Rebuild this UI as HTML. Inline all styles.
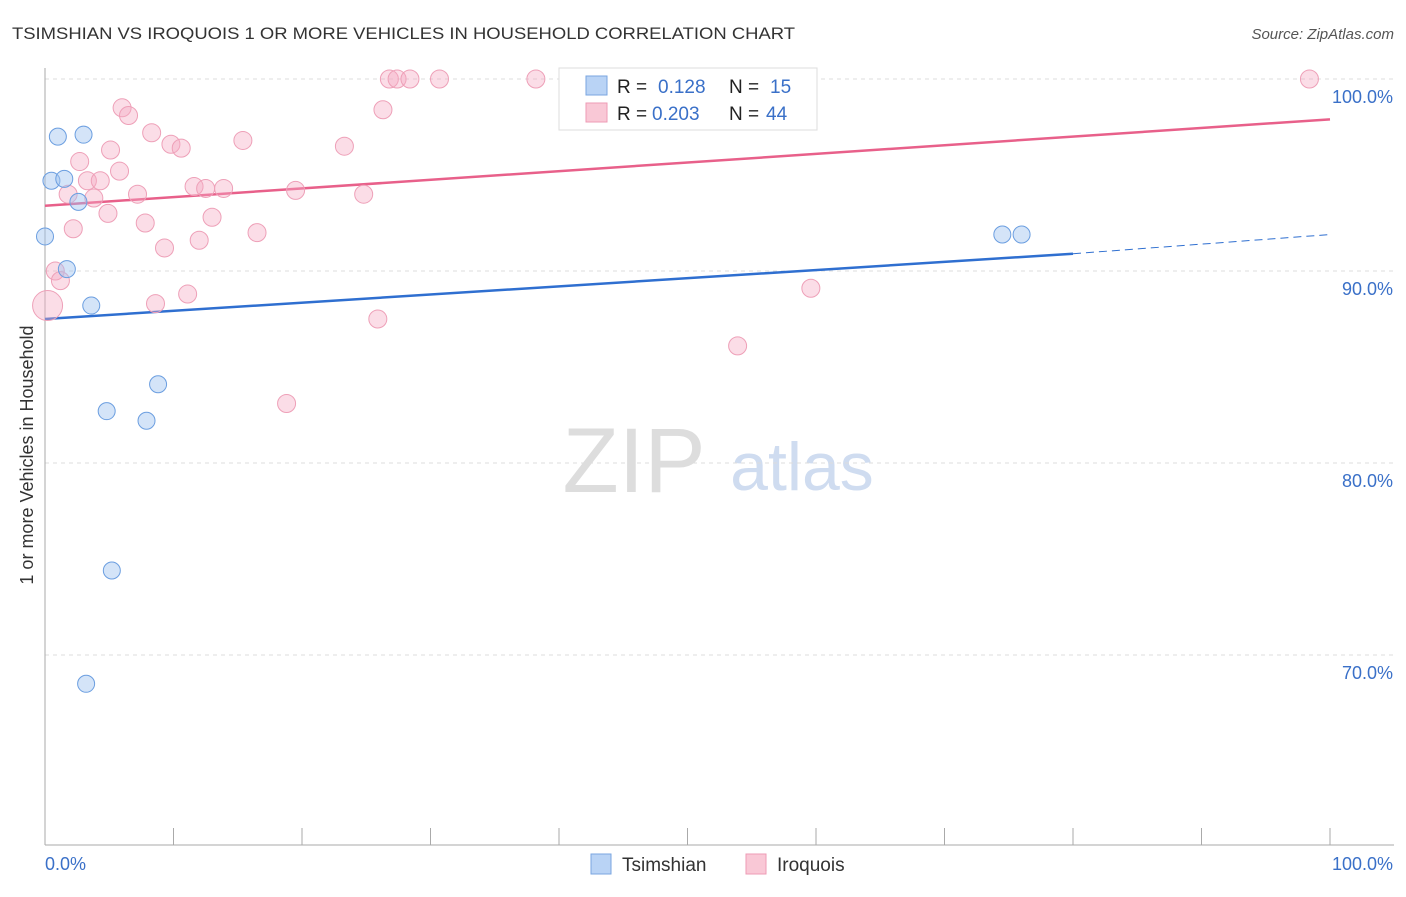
<!DOCTYPE html>
<html><head><meta charset="utf-8"><style>
body{margin:0;background:#fff;font-family:"Liberation Sans",sans-serif;}
svg text{font-family:"Liberation Sans",sans-serif;}
</style></head><body>
<svg id="chart" width="1406" height="892" xmlns="http://www.w3.org/2000/svg">
<text x="12" y="39" font-size="17" fill="#333" textLength="783" lengthAdjust="spacingAndGlyphs">TSIMSHIAN VS IROQUOIS 1 OR MORE VEHICLES IN HOUSEHOLD CORRELATION CHART</text>
<text x="1394" y="39" font-size="15" fill="#555" font-style="italic" text-anchor="end">Source: ZipAtlas.com</text>
<text x="33" y="455" font-size="18" fill="#333" text-anchor="middle" transform="rotate(-90 33 455)">1 or more Vehicles in Household</text>
<g><text x="634" y="492" font-size="92" fill="#ddd" font-family="Liberation Serif" text-anchor="middle">ZIP</text><text x="802" y="490" font-size="68" fill="#cfdcf0" text-anchor="middle">atlas</text></g>
<g id="grid"></g><g id="axes"></g><g id="lines"></g><g id="pts"></g>
<g>
<rect x="559" y="68" width="258" height="62" fill="#fff" stroke="#ddd"/>
<rect x="586" y="76" width="21" height="19" fill="#b9d3f5" stroke="#7aa6e0"/>
<rect x="586" y="103" width="21" height="19" fill="#f9c8d6" stroke="#ee9bb5"/>
<text x="617" y="93" font-size="19" fill="#222">R = </text><text x="658" y="93" font-size="19" fill="#3a70c8">0.128</text>
<text x="729" y="93" font-size="19" fill="#222">N = </text><text x="770" y="93" font-size="19" fill="#3a70c8">15</text>
<text x="617" y="120" font-size="19" fill="#222">R = </text><text x="652" y="120" font-size="19" fill="#3a70c8">0.203</text>
<text x="729" y="120" font-size="19" fill="#222">N = </text><text x="766" y="120" font-size="19" fill="#3a70c8">44</text>
</g>
<g>
<rect x="591" y="854" width="20" height="20" fill="#b9d3f5" stroke="#7aa6e0"/><text x="622" y="871" font-size="19" fill="#333">Tsimshian</text>
<rect x="746" y="854" width="20" height="20" fill="#f9c8d6" stroke="#ee9bb5"/><text x="777" y="871" font-size="19" fill="#333">Iroquois</text>
</g>
</svg>
<script>
const yTicks=[100,90,80,70];
const tsX=[0,1,3,0.5,1.5,2.6,1.7,3.6,8.8,4.8,7.9,5.2,3.2,74.5,76];
const tsY=[91.8,97,97.1,94.7,94.8,93.6,90.1,88.2,84.1,82.7,82.2,74.4,68.5,91.9,91.9];
const irX=[6,6.5,8.3,5.1,2.7,5.8,7.2,9.8,10.6,15.4,23.3,26.3,26.8,27.4,28.4,30.7,38.2,98.4,11.6,12.5,13.9,19.5,24.8,3.3,4.3,1.8,3.8,4.9,7.8,13,2.2,16.5,12,9.3,0.8,1.2,0.2,8.6,11.1,25.9,18.8,53.9,59.6];
const irY=[98.5,98.1,97.2,96.3,95.7,95.2,94,96.6,96.4,96.8,96.5,98.4,100,100,100,100,100,100,94.4,94.3,94.3,94.2,94,94.7,94.7,94,93.8,93,92.5,92.8,92.2,92,91.6,91.2,90,89.5,88.2,88.3,88.8,87.5,83.1,86.1,89.1];
const irS=irX.map((_,i)=>i===36?15:9);
const trendTs=[[0,87.5],[80,90.9],[100,91.9]];
const trendIr=[[0,93.4],[100,97.9]];
const X=v=>45+v*12.85, Y=v=>79+(100-v)*19.2;
const NS="http://www.w3.org/2000/svg";
function mk(p,t,a){const e=document.createElementNS(NS,t);for(const k in a)e.setAttribute(k,a[k]);document.getElementById(p).appendChild(e);return e;}
yTicks.forEach(v=>{
 const l=mk('grid','line',{x1:45,x2:1394,y1:Y(v),y2:Y(v),stroke:'#ddd','stroke-dasharray':'4,4'});
 
 
 const t=mk('grid','text',{x:1393,y:Y(v)+24,'font-size':18,fill:'#3a70c8','text-anchor':'end'});t.textContent=v.toFixed(1)+'%';
 
 
});
mk('axes','line',{x1:45,x2:45,y1:68,y2:845,stroke:'#aaa'});
mk('axes','line',{x1:45,x2:1394,y1:845,y2:845,stroke:'#aaa'});
for(let i=1;i<=10;i++){const x=45+i*128.5;mk('axes','line',{x1:x,x2:x,y1:828,y2:845,stroke:'#aaa'});}
let t=mk('axes','text',{x:45,y:870,'font-size':18,fill:'#3a70c8'});t.textContent='0.0%';


t=mk('axes','text',{x:1393,y:870,'font-size':18,fill:'#3a70c8','text-anchor':'end'});t.textContent='100.0%';


let l=mk('lines','line',{x1:X(trendIr[0][0]),y1:Y(trendIr[0][1]),x2:X(trendIr[1][0]),y2:Y(trendIr[1][1]),stroke:'#e8608a','stroke-width':2.5});


l=mk('lines','line',{x1:X(trendTs[0][0]),y1:Y(trendTs[0][1]),x2:X(trendTs[1][0]),y2:Y(trendTs[1][1]),stroke:'#2f6fd0','stroke-width':2.5});


l=mk('lines','line',{x1:X(trendTs[1][0]),y1:Y(trendTs[1][1]),x2:X(trendTs[2][0]),y2:Y(trendTs[2][1]),stroke:'#2f6fd0','stroke-width':1,'stroke-dasharray':'8,5'});


irX.forEach((x,i)=>{const c=mk('pts','circle',{cx:X(x),cy:Y(irY[i]),r:irS[i],fill:'rgba(246,170,195,0.4)',stroke:'#eea0b8'});
 
 });
tsX.forEach((x,i)=>{const c=mk('pts','circle',{cx:X(x),cy:Y(tsY[i]),r:8.5,fill:'rgba(160,195,240,0.45)',stroke:'#6b9ee0'});
 
 });
</script>
</body></html>
